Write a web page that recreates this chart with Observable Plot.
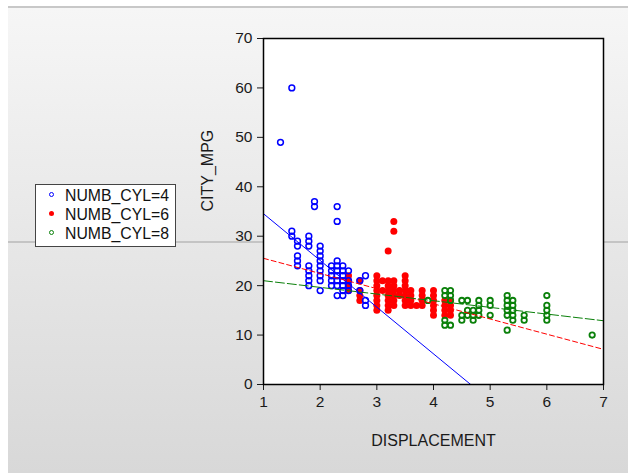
<!DOCTYPE html>
<html><head><meta charset="utf-8">
<script src="https://cdn.jsdelivr.net/npm/d3@7"></script>
<script src="https://cdn.jsdelivr.net/npm/@observablehq/plot@0.6"></script>
<style>
html,body{margin:0;padding:0;background:#fff;}
#wrap{position:relative;width:628px;height:473px;overflow:hidden;font-family:"Liberation Sans",Arial,sans-serif;}
#bg{position:absolute;left:8px;top:6px;right:0;bottom:0;background:linear-gradient(#f6f6f6,#d8d8d8);border-top:2px solid #c8c8c8;}
#hline{position:absolute;left:8px;right:0;top:241px;height:2px;background:#c4c4c4;}
#chart{position:absolute;left:0;top:0;}
#legend{position:absolute;left:35px;top:184px;width:141px;height:63px;background:#fff;border:1px solid #444;box-sizing:border-box;font-size:15.8px;color:#111;}
#legend .row{position:absolute;left:0;height:19px;line-height:19px;}
#legend .sym{position:absolute;left:13px;top:6px;width:5px;height:5px;border-radius:50%;box-sizing:border-box;}
#legend .txt{position:absolute;left:29px;top:0;white-space:nowrap;}
</style></head>
<body>
<div id="wrap">
  <div id="bg"></div>
  <div id="hline"></div>
  <div id="chart"></div>
  <div id="legend"></div>
</div>
<script>
// ---- data ----
const seriesNames = ["NUMB_CYL=4", "NUMB_CYL=6", "NUMB_CYL=8"];
const seriesColors = ["#0000ff", "#ff0000", "#0a800a"];

const cyl4Disp = [1.3, 1.5, 1.6, 1.8, 1.9, 2.0, 2.2, 2.3, 2.4, 2.5, 2.7, 2.8];
const cyl4Mpg = [[49],[60,31,30],[29,28,26,25,24],[30,29,28,24,23,22,21,20],[37,36],
  [28,27,26,25,24,23,22,21,19],[24,23,22,21,20],[36,33,25,24,23,22,21,20,18],
  [24,23,22,21,20,19,18],[23,21,20,19],[21,19],[22,17,16]];

const cyl6Disp = [2.5, 2.7, 3.0, 3.1, 3.2, 3.3, 3.4, 3.5, 3.6, 3.7, 3.8, 4.0, 4.2, 4.3];
const cyl6Mpg = [[22,21,20,19],[21,19,18,17],[22,21,20,19,18,17,16,15],[21,19],
  [27,21,20,19,18,17,16,15],[33,31,21,20,19,18,17,16],[19,18],[22,21,20,19,18,17,16],
  [19,18,17,16],[16],[19,18,17,16],[19,18,17,16,15,14],[17,16,15,14],[17,16,15,14]];

const cyl8Disp = [3.9, 4.2, 4.3, 4.5, 4.6, 4.7, 4.8, 5.0, 5.3, 5.4, 5.6, 6.0, 6.8];
const cyl8Mpg = [[17],[19,18,13,12],[19,18,17,12],[17,14,13],[17,15,14],[15,14,13],
  [17,16,15,14],[17,16,14],[18,17,16,15,14,11],[17,16,15,14,13],[14,13],[18,16,15,14,13],[10]];

// fitted lines (intercept, slope) per series
const fitIntercept = [44.0, 28.6, 22.35];
const fitSlope = [-9.45, -3.07, -1.35];

const xTicks = [1, 2, 3, 4, 5, 6, 7];
const yTicks = [0, 10, 20, 30, 40, 50, 60, 70];

// ---- build tables ----
function rows(disp, mpg, s) {
  const out = [];
  disp.forEach((d, i) => mpg[i].forEach(m => out.push({disp: d, mpg: m, s})));
  return out;
}
const d4 = rows(cyl4Disp, cyl4Mpg, 0);
const d6 = rows(cyl6Disp, cyl6Mpg, 1);
const d8 = rows(cyl8Disp, cyl8Mpg, 2);
const fitLine = i => [xTicks[0], xTicks[xTicks.length - 1]].map(x => ({disp: x, mpg: fitIntercept[i] + fitSlope[i] * x}));

const chart = Plot.plot({
  width: 628, height: 473,
  marginLeft: 263, marginRight: 25, marginTop: 38, marginBottom: 89,
  style: {background: "transparent", fontFamily: "'Liberation Sans', Arial, sans-serif", fontSize: "15.5px", color: "#1a1a1a"},
  x: {domain: [1, 7]},
  y: {domain: [0, 70]},
  marks: [
    Plot.frame({fill: "white", stroke: null}),
    Plot.axisX({ticks: xTicks, tickSize: 6, tickPadding: 5, label: null, tickFormat: d => d}),
    Plot.axisY({ticks: yTicks, tickSize: 6, tickPadding: 5, label: null, tickFormat: d => d}),
    Plot.dot(d6, {x: "disp", y: "mpg", r: 3.5, fill: seriesColors[1], stroke: "none"}),
    Plot.dot(d8, {x: "disp", y: "mpg", r: 2.7, fill: "none", stroke: seriesColors[2], strokeWidth: 1.8}),
    Plot.dot(d4, {x: "disp", y: "mpg", r: 2.9, fill: "none", stroke: seriesColors[0], strokeWidth: 1.5}),
    Plot.line(fitLine(0), {x: "disp", y: "mpg", stroke: seriesColors[0], strokeWidth: 1, clip: true}),
    Plot.line(fitLine(1), {x: "disp", y: "mpg", stroke: seriesColors[1], strokeWidth: 1, strokeDasharray: "5,3", clip: true}),
    Plot.line(fitLine(2), {x: "disp", y: "mpg", stroke: seriesColors[2], strokeWidth: 1, strokeDasharray: "9,3", clip: true}),
    Plot.frame({stroke: "#000", strokeWidth: 1.5}),
    Plot.text(["DISPLACEMENT"], {frameAnchor: "bottom", dy: 61, fontSize: 16, fill: "#1a1a1a"}),
    Plot.text(["CITY_MPG"], {frameAnchor: "left", dx: -56, rotate: -90, fontSize: 16, fill: "#1a1a1a"})
  ]
});
document.getElementById("chart").appendChild(chart);

// legend
const legend = document.getElementById("legend");
seriesNames.forEach((name, i) => {
  const row = document.createElement("div");
  row.className = "row";
  row.style.top = (1 + i * 19) + "px";
  const sym = document.createElement("span");
  sym.className = "sym";
  if (i === 1) { sym.style.background = seriesColors[i]; }
  else { sym.style.border = "1.3px solid " + seriesColors[i]; }
  const txt = document.createElement("span");
  txt.className = "txt";
  txt.textContent = name;
  row.appendChild(sym); row.appendChild(txt);
  legend.appendChild(row);
});
</script>
</body></html>
